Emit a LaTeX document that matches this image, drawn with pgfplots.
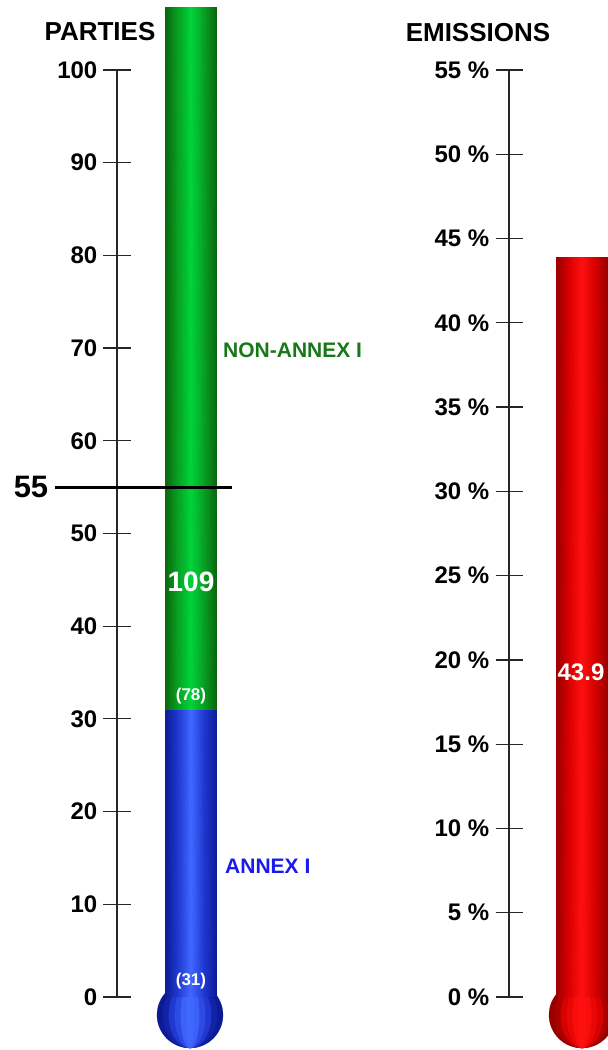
\documentclass[border=0pt]{standalone}
\usepackage{pgfplots}
\pgfplotsset{compat=1.18}
\usepackage{fontspec}
\setmainfont{Liberation Sans}
\definecolor{gdark}{HTML}{0A650A}
\definecolor{gmid}{HTML}{08A024}
\definecolor{glight}{HTML}{00D43A}
\definecolor{bdark}{HTML}{0C1A96}
\definecolor{bmid}{HTML}{2038D0}
\definecolor{blight}{HTML}{4068FF}
\definecolor{rdark}{HTML}{980000}
\definecolor{rmid}{HTML}{D80000}
\definecolor{rlight}{HTML}{FF1010}
\definecolor{ntext}{HTML}{187818}
\definecolor{atext}{HTML}{1A1AEE}
\newcommand{\fs}[1]{\fontsize{#1}{#1}\selectfont}
\begin{document}
\begin{tikzpicture}
\useasboundingbox (0,0) rectangle (608pt,1050pt);
\clip (0,0) rectangle (608pt,1050pt);
\pgfplotsset{
  therm/.style={
    scale only axis, clip=false,
    axis x line=none, axis y line=left,
    axis line style={-, black!85, line width=1.3pt},
    tick style={black!85, line width=1.2pt},
    major tick length=27pt, tick align=center,
    /pgf/number format/assume math mode=true,
    yticklabel style={font=\bfseries\fs{24}, inner sep=0pt, anchor=east, xshift=-6pt},
  },
  leftgeom/.style={at={(117pt,53pt)}, anchor=south west,
    width=183pt, height=927pt, xmin=117, xmax=300, ymin=0, ymax=100},
  rightgeom/.style={at={(509pt,53pt)}, anchor=south west,
    width=99pt, height=927pt, xmin=509, xmax=608, ymin=0, ymax=55},
  tube/.style={patch, patch type=rectangle, shader=interp,
    mesh/color input=explicit, point meta=explicit symbolic},
  bulb/.style={only marks, mark=*, mark size=33pt,
    color=#1, mark options={solid, fill=#1, draw=#1, line width=0.2pt}},
}
% bulbs (behind the tubes)
\begin{axis}[leftgeom, scale only axis, clip=false, hide axis]
\addplot[bulb=bdark] coordinates {(190,-1.94)};
\addplot[bulb=bdark!70!bmid, mark options={xscale=0.82}] coordinates {(190,-1.94)};
\addplot[bulb=bmid, mark options={xscale=0.64}] coordinates {(190,-1.94)};
\addplot[bulb=bmid!60!blight, mark options={xscale=0.46}] coordinates {(190,-1.94)};
\addplot[bulb=blight!85!bmid, mark options={xscale=0.28}] coordinates {(190,-1.94)};
\addplot[bulb=blight, mark options={xscale=0.12}] coordinates {(190,-1.94)};
\end{axis}
\begin{axis}[rightgeom, scale only axis, clip=false, hide axis]
\addplot[bulb=rdark] coordinates {(582,-1.07)};
\addplot[bulb=rdark!70!rmid, mark options={xscale=0.82}] coordinates {(582,-1.07)};
\addplot[bulb=rmid, mark options={xscale=0.64}] coordinates {(582,-1.07)};
\addplot[bulb=rmid!60!rlight, mark options={xscale=0.46}] coordinates {(582,-1.07)};
\addplot[bulb=rlight!85!rmid, mark options={xscale=0.28}] coordinates {(582,-1.07)};
\addplot[bulb=rlight, mark options={xscale=0.12}] coordinates {(582,-1.07)};
\end{axis}
% LEFT: PARTIES
\begin{axis}[therm, leftgeom, ytick={0,10,...,100}]
% blue tube 0..31
\addplot[tube] coordinates {
 (165,0) [color=bdark] (178,0) [color=bmid] (178,31) [color=bmid] (165,31) [color=bdark]
 (178,0) [color=bmid] (191,0) [color=blight] (191,31) [color=blight] (178,31) [color=bmid]
 (191,0) [color=blight] (204,0) [color=bmid] (204,31) [color=bmid] (191,31) [color=blight]
 (204,0) [color=bmid] (217,0) [color=bdark] (217,31) [color=bdark] (204,31) [color=bmid]
};
% green tube 31..106.7
\addplot[tube] coordinates {
 (165,31) [color=gdark] (178,31) [color=gmid] (178,106.7) [color=gmid] (165,106.7) [color=gdark]
 (178,31) [color=gmid] (191,31) [color=glight] (191,106.7) [color=glight] (178,106.7) [color=gmid]
 (191,31) [color=glight] (204,31) [color=gmid] (204,106.7) [color=gmid] (191,106.7) [color=glight]
 (204,31) [color=gmid] (217,31) [color=gdark] (217,106.7) [color=gdark] (204,106.7) [color=gmid]
};
\addplot[black, line width=3pt] coordinates {(55,55) (232,55)};
\node[font=\bfseries\fs{31}] at (axis cs:31,55) {55};
\node[font=\bfseries\fs{28}, text=white] at (axis cs:191,44.77) {109};
\node[font=\bfseries\fs{17}, text=white] at (axis cs:191,32.47) {(78)};
\node[font=\bfseries\fs{17}, text=white] at (axis cs:191,1.73) {(31)};
\node[font=\bfseries\fs{21}, text=ntext, anchor=west, inner sep=0pt] at (axis cs:223,69.8) {NON-ANNEX I};
\node[font=\bfseries\fs{21}, text=atext, anchor=west, inner sep=0pt] at (axis cs:225,14.13) {ANNEX I};
\node[font=\bfseries\fs{26}] at (axis cs:100,104.1) {PARTIES};
\end{axis}
% RIGHT: EMISSIONS
\begin{axis}[therm, rightgeom, ytick={0,5,...,55},
  yticklabel={\pgfmathprintnumber{\tick}~\%}]
\addplot[tube] coordinates {
 (556,0) [color=rdark] (569,0) [color=rmid] (569,43.9) [color=rmid] (556,43.9) [color=rdark]
 (569,0) [color=rmid] (582,0) [color=rlight] (582,43.9) [color=rlight] (569,43.9) [color=rmid]
 (582,0) [color=rlight] (595,0) [color=rmid] (595,43.9) [color=rmid] (582,43.9) [color=rlight]
 (595,0) [color=rmid] (608,0) [color=rdark] (608,43.9) [color=rdark] (595,43.9) [color=rmid]
};
\node[font=\bfseries\fs{24}, text=white] at (axis cs:581,19.28) {43.9};
\node[font=\bfseries\fs{26}] at (axis cs:478,57.2) {EMISSIONS};
\end{axis}
\end{tikzpicture}
\end{document}
